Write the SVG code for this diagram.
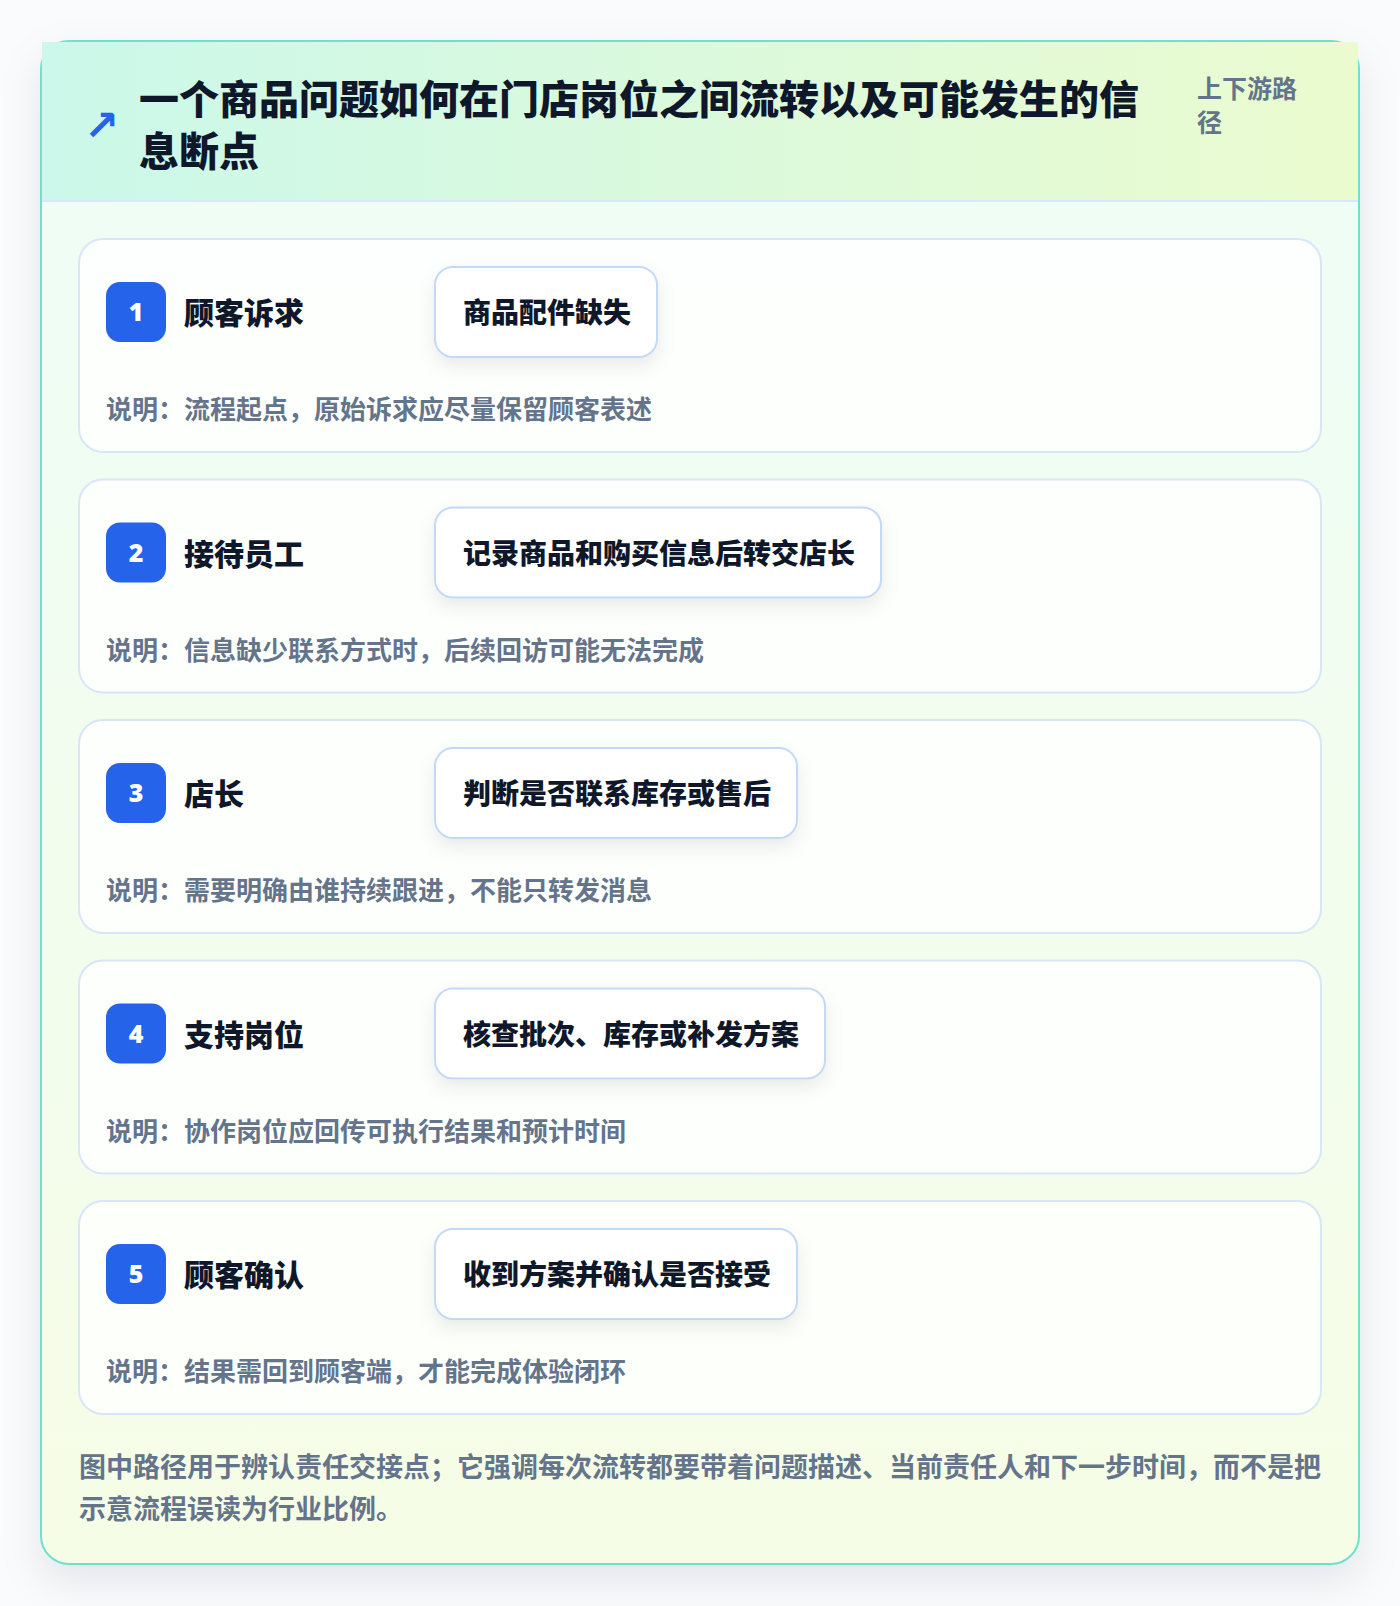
<svg xmlns="http://www.w3.org/2000/svg" width="1400" height="1606" viewBox="0 0 1400 1606">
  <defs>
    <linearGradient id="hdrGrad" x1="0" y1="0" x2="1" y2="0">
      <stop offset="0" stop-color="#cbf8ea"/>
      <stop offset="1" stop-color="#ebfbcf"/>
    </linearGradient>
    <linearGradient id="bodyGrad" x1="0" y1="0" x2="0" y2="1">
      <stop offset="0" stop-color="#eefdf7"/>
      <stop offset="1" stop-color="#f6fde6"/>
    </linearGradient>
    <filter id="outerShadow" x="-10%" y="-10%" width="120%" height="120%">
      <feDropShadow dx="0" dy="16" stdDeviation="20" flood-color="#0f172a" flood-opacity="0.09"/>
    </filter>
    <filter id="tagShadow" x="-20%" y="-30%" width="140%" height="180%">
      <feDropShadow dx="0" dy="8" stdDeviation="9" flood-color="#0f172a" flood-opacity="0.08"/>
    </filter>
    <style>
      .cjk { font-family: "Noto Sans CJK SC", "Noto Sans", "Liberation Sans", sans-serif; font-weight: 700; }
      .heavy { font-weight: 900; }
      .title { font-size: 40px; fill: #0f172a; }
      .badgeLabel { font-size: 25px; fill: #64748b; }
      .card { fill: #ffffff; fill-opacity: 0.82; stroke: #d8e6f8; stroke-width: 2; }
      .badge { fill: #2563eb; }
      .num { font-family: "Noto Sans", "Liberation Sans", sans-serif; font-weight: 900; font-size: 25px; fill: #ffffff; }
      .role { font-size: 30px; fill: #0f172a; }
      .tag { fill: #ffffff; stroke: #c3d9f6; stroke-width: 2; }
      .tagText { font-size: 28px; fill: #0f172a; }
      .desc { font-size: 26px; fill: #64748b; }
      .foot { font-size: 27px; fill: #64748b; }
    </style>
  </defs>

  <rect x="0" y="0" width="1400" height="1606" fill="#fafbfc"/>

  <g id="frame">
    <rect x="41" y="41" width="1318" height="1523" rx="28" ry="28" fill="url(#bodyGrad)" stroke="#6ee0cc" stroke-width="2" filter="url(#outerShadow)"/>
    <rect x="42" y="42" width="1316" height="158" fill="url(#hdrGrad)"/>
    <line x1="42" y1="201" x2="1358" y2="201" stroke="#d9e9f7" stroke-width="2"/>
  </g>

  <g id="header">
    <text x="84" y="140" font-family="DejaVu Sans, sans-serif" font-size="42" font-weight="700" fill="#2563eb">↗</text>
    <text class="cjk heavy title" x="139" y="114">一个商品问题如何在门店岗位之间流转以及可能发生的信</text>
    <text class="cjk heavy title" x="139" y="166">息断点</text>
    <text class="cjk badgeLabel" x="1197" y="98">上下游路</text>
    <text class="cjk badgeLabel" x="1197" y="132">径</text>
  </g>

  <g id="connectors"></g>

  <g id="step1">
    <rect class="card" x="79" y="239" width="1242" height="213" rx="24"/>
    <rect class="badge" x="106" y="282" width="60" height="60" rx="14"/>
    <text class="num" x="136" y="321" text-anchor="middle">1</text>
    <text class="cjk heavy role" x="184" y="324">顾客诉求</text>
    <rect class="tag" x="435" y="267" width="222" height="90" rx="18" filter="url(#tagShadow)"/>
    <text class="cjk heavy tagText" x="463" y="323">商品配件缺失</text>
    <text class="cjk desc" x="106" y="419">说明：流程起点，原始诉求应尽量保留顾客表述</text>
  </g>

  <g id="step2">
    <rect class="card" x="79" y="479.5" width="1242" height="213" rx="24"/>
    <rect class="badge" x="106" y="522.5" width="60" height="60" rx="14"/>
    <text class="num" x="136" y="561.5" text-anchor="middle">2</text>
    <text class="cjk heavy role" x="184" y="564.5">接待员工</text>
    <rect class="tag" x="435" y="507.5" width="446" height="90" rx="18" filter="url(#tagShadow)"/>
    <text class="cjk heavy tagText" x="463" y="563.5">记录商品和购买信息后转交店长</text>
    <text class="cjk desc" x="106" y="659.5">说明：信息缺少联系方式时，后续回访可能无法完成</text>
  </g>

  <g id="step3">
    <rect class="card" x="79" y="720" width="1242" height="213" rx="24"/>
    <rect class="badge" x="106" y="763" width="60" height="60" rx="14"/>
    <text class="num" x="136" y="802" text-anchor="middle">3</text>
    <text class="cjk heavy role" x="184" y="805">店长</text>
    <rect class="tag" x="435" y="748" width="362" height="90" rx="18" filter="url(#tagShadow)"/>
    <text class="cjk heavy tagText" x="463" y="804">判断是否联系库存或售后</text>
    <text class="cjk desc" x="106" y="900">说明：需要明确由谁持续跟进，不能只转发消息</text>
  </g>

  <g id="step4">
    <rect class="card" x="79" y="960.5" width="1242" height="213" rx="24"/>
    <rect class="badge" x="106" y="1003.5" width="60" height="60" rx="14"/>
    <text class="num" x="136" y="1042.5" text-anchor="middle">4</text>
    <text class="cjk heavy role" x="184" y="1045.5">支持岗位</text>
    <rect class="tag" x="435" y="988.5" width="390" height="90" rx="18" filter="url(#tagShadow)"/>
    <text class="cjk heavy tagText" x="463" y="1044.5">核查批次、库存或补发方案</text>
    <text class="cjk desc" x="106" y="1140.5">说明：协作岗位应回传可执行结果和预计时间</text>
  </g>

  <g id="step5">
    <rect class="card" x="79" y="1201" width="1242" height="213" rx="24"/>
    <rect class="badge" x="106" y="1244" width="60" height="60" rx="14"/>
    <text class="num" x="136" y="1283" text-anchor="middle">5</text>
    <text class="cjk heavy role" x="184" y="1286">顾客确认</text>
    <rect class="tag" x="435" y="1229" width="362" height="90" rx="18" filter="url(#tagShadow)"/>
    <text class="cjk heavy tagText" x="463" y="1285">收到方案并确认是否接受</text>
    <text class="cjk desc" x="106" y="1381">说明：结果需回到顾客端，才能完成体验闭环</text>
  </g>

  <g id="footer">
    <text class="cjk foot" x="79" y="1477">图中路径用于辨认责任交接点；它强调每次流转都要带着问题描述、当前责任人和下一步时间，而不是把</text>
    <text class="cjk foot" x="79" y="1519">示意流程误读为行业比例。</text>
  </g>
</svg>
